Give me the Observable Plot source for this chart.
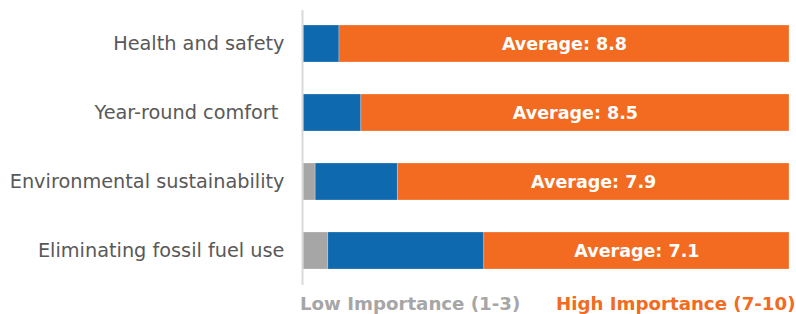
<!DOCTYPE html>
<html>
<head>
<meta charset="utf-8">
<script src="https://cdn.jsdelivr.net/npm/d3@7"></script>
<script src="https://cdn.jsdelivr.net/npm/@observablehq/plot@0.6"></script>
<style>
  body { margin: 0; background: #fff; font-family: "DejaVu Sans", Verdana, sans-serif; }
  #wrap { position: relative; width: 796px; height: 314px; overflow: hidden; }
  #legend { position: absolute; top: 288px; left: 0; width: 796px; height: 26px; font-weight: bold; font-size: 18.2px; line-height: 21px; }
  #legend span { position: absolute; top: 5px; white-space: nowrap; }
</style>
</head>
<body>
<div id="wrap">
  <div id="chart"></div>
  <div id="legend">
    <span id="lowLab" style="left:300px;color:#A6A6A6"></span>
    <span id="highLab" style="left:556px;color:#F26B21"></span>
  </div>
</div>
<script>
const categories = ["Health and safety", "Year-round comfort\u00a0", "Environmental sustainability", "Eliminating fossil fuel use"];
const lowValues = [0, 0, 2.5, 5.1];
const mediumValues = [7.4, 11.9, 16.9, 32.1];
const highValues = [92.6, 88.1, 80.6, 62.8];
const averages = [8.8, 8.5, 7.9, 7.1];
const seriesNames = ["Low Importance (1-3)", "Medium Importance (4-6)", "High Importance (7-10)"];
const seriesColors = ["#A6A6A6", "#0F69AF", "#F26B21"];

document.getElementById("lowLab").textContent = seriesNames[0];
document.getElementById("highLab").textContent = seriesNames[2];

const segs = [];
categories.forEach((c, i) => {
  [lowValues[i], mediumValues[i], highValues[i]].forEach((v, j) => {
    segs.push({category: c, series: seriesNames[j], value: v, order: j});
  });
});
const labels = categories.map((c, i) => ({
  category: c,
  x: lowValues[i] + mediumValues[i] + highValues[i] / 2,
  text: "Average: " + averages[i].toFixed(1)
}));

const chart = Plot.plot({
  width: 796,
  height: 288,
  marginLeft: 303,
  marginRight: 7,
  marginTop: 25,
  marginBottom: 18,
  style: {fontFamily: "DejaVu Sans, Verdana, sans-serif", background: "#fff"},
  x: {domain: [0, 100], axis: null},
  y: {domain: categories, paddingInner: 0.458, paddingOuter: 0, label: null},
  color: {domain: seriesNames, range: seriesColors},
  marks: [
    Plot.barX(segs, Plot.stackX({
      x: "value", y: "category", fill: "series", order: "order",
      stroke: "#fff", strokeOpacity: 0.35, strokeWidth: 0.7
    })),
    Plot.ruleX([0], {stroke: "#D9D9D9", strokeWidth: 2, dx: -1, insetTop: -15, insetBottom: -15}),
    Plot.axisY({tickSize: 0, tickPadding: 19, fontSize: 19.3, color: "#595959", label: null}),
    Plot.text(labels, {x: "x", y: "category", text: "text", fill: "white", fontWeight: "bold", fontSize: 17.5})
  ]
});
document.getElementById("chart").appendChild(chart);
</script>
</body>
</html>
